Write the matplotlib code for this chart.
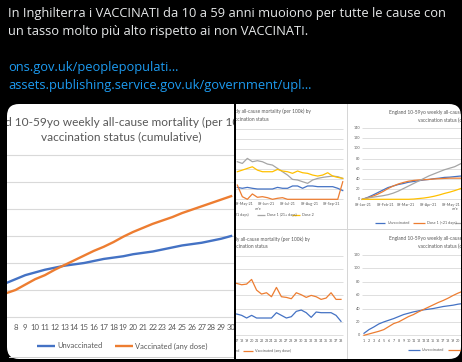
import matplotlib.pyplot as plt
import matplotlib.dates as mdates
import matplotlib.transforms as mtransforms
from matplotlib.patches import FancyBboxPatch, Rectangle
import pandas as pd

W, H = 462, 362

# tweet text
tweet_lines = ["In Inghilterra i VACCINATI da 10 a 59 anni muoiono per tutte le cause con",
               "un tasso molto più alto rispetto ai non VACCINATI."]
links = ["ons.gov.uk/peoplepopulati…",
         "assets.publishing.service.gov.uk/government/upl…"]

title_l1 = "England 10-59yo weekly all-cause mortality (per 100k) by"
title_l2_cum = "vaccination status (cumulative)"
title_l2 = "vaccination status"

# cumulative weekly all-cause mortality per 100k, weeks 1-30
cum_weeks = list(range(1, 31))
cum_unvacc = [3, 8.5, 12.5, 17, 20, 22.5, 25, 28, 31, 33, 35, 36.5, 38, 39, 40,
              41.5, 43, 44, 45, 46.5, 47.5, 48.5, 50, 51.5, 53, 54, 55, 56.5, 58, 60]
cum_vacc = [0, 2, 4, 6, 8.5, 13, 17.5, 20, 24, 28, 31, 35, 38.5, 42, 45.5,
            49, 52, 55.5, 59.5, 63, 66, 69, 71.5, 74, 77, 79.5, 82, 84.5, 87, 89.5]

# weekly mortality by dose (w/e dates)
dose_dates = pd.date_range("2021-04-30", periods=22, freq="7D")
dose_unvacc = [1.18, 1.09, 1.18, 1.09, 1.02, 1.02, 1.02, 1.02, 1.18, 1.09, 1.09,
               1.32, 1.32, 1.09, 1.32, 1.32, 1.25, 1.25, 1.25, 1.25, 1.09, 0.86]
dose1_early = [1.41, 0.26, 0.0, 0.53, 0.2, 0.26, 0.16, 0.0, 0.1, 0.16, 0.0,
               0.0, 0.0, 0.0, 0.0, 0.0, 0.0, 0.0, 0.0, 0.0, 0.0, 1.74]
dose1_late = [3.72, 3.55, 4.05, 3.72, 3.82, 3.72, 3.49, 3.39, 3.06, 2.73, 2.40,
              1.97, 1.91, 1.74, 1.58, 1.91, 2.07, 2.17, 2.24, 2.30, 2.24, 2.07]
dose2 = [2.73, 2.89, 3.06, 3.22, 2.89, 2.73, 2.73, 2.73, 2.96, 2.80, 2.73,
         2.57, 2.80, 2.63, 2.57, 2.40, 2.30, 2.40, 2.63, 2.30, 2.17, 2.07]
dose_ticks = ["2021-05-09", "2021-06-09", "2021-07-09", "2021-08-09", "2021-09-09"]

# cumulative by dose
cd_dates = pd.date_range("2021-01-08", periods=21, freq="7D")
cd_unvacc = [0, 3.5, 8, 13, 18, 23, 26, 29, 31, 33.5, 35, 36.5, 38, 39, 40.5,
             41.5, 43, 43.5, 44.5, 45.5, 46]
cd_dose1_early = [0, 2.5, 6, 10, 15, 21, 26, 30, 33, 35.5, 37, 38, 38.5, 39, 40,
                  40.5, 41, 41.5, 41.5, 41.5, 41.5]
cd_dose1_late = [0, 2.5, 4, 5.5, 7, 9, 12, 16, 21, 26, 31, 36, 41, 46, 50, 54,
                 58, 61, 64, 69, 74]
cd_dose2 = [0, 0, 0, 0, 0, 0, 0, 0, 0, 0, 0.5, 1.5, 2.5, 4, 6, 8.5, 11.5, 14,
            17, 20.5, 24]
cd_ticks = ["2021-01-09", "2021-02-09", "2021-03-09", "2021-04-09", "2021-05-09"]

# weekly (non-cumulative) by vaccination status, weeks 16-38
wk_weeks = list(range(16, 39))
wk_unvacc = [1.6, 1.6, 1.5, 1.3, 1.5, 1.3, 1.3, 1.3, 1.3, 1.7, 1.5, 1.3, 1.4,
             1.8, 1.9, 1.7, 1.35, 1.75, 1.7, 1.7, 1.7, 1.5, 1.05]
wk_vacc = [3.95, 3.9, 3.8, 3.85, 4.2, 3.4, 3.1, 3.2, 2.9, 3.6, 2.9, 2.85, 2.75,
           3.2, 3.05, 2.85, 3.0, 2.9, 2.7, 2.8, 3.2, 2.7, 2.7]

BLUE, ORANGE, GREY, YELLOW = "#4472c4", "#ed7d31", "#a5a5a5", "#ffc000"
TXT, GRID = "#595959", "#d9d9d9"
FONT = "Lato"
SMALL, TSMALL = 2.7, 3.5

fig = plt.figure(figsize=(W / 100, H / 100), dpi=100)
fig.patch.set_facecolor("#000000")
pix = mtransforms.Affine2D().scale(1 / W, -1 / H).translate(0, 1) + fig.transFigure


def tile(x0, y0, x1, y1, xmap, ymap):
    ax = fig.add_axes([x0 / W, 1 - y1 / H, (x1 - x0) / W, (y1 - y0) / H])
    ax.set_axis_off()
    ax.patch.set_visible(False)
    (pa, va, pb, vb), (qa, ua, qb, ub) = xmap, ymap
    fx = lambda p: va + (p - pa) * (vb - va) / (pb - pa)
    fy = lambda q: ua + (q - qa) * (ub - ua) / (qb - qa)
    ax.set_xlim(fx(x0), fx(x1))
    ax.set_ylim(fy(y1), fy(y0))
    ax.fx = fx
    ax.bx = mtransforms.blended_transform_factory(ax.transData, pix)
    ax.by = mtransforms.blended_transform_factory(pix, ax.transData)
    return ax


def ptext(ax, x, y, s, size, ha="center", color=TXT):
    ax.text(x, y, s, transform=pix, fontsize=size, ha=ha, va="center",
            color=color, family=FONT, clip_on=True)


def key(ax, x0, x1, y, color, lw):
    ax.plot([x0, x1], [y, y], transform=pix, color=color, lw=lw,
            solid_capstyle="butt", clip_on=True)


def xlabels(ax, xs, labels, y, size, xmin, xmax):
    # only labels that sit inside the visible crop of the chart
    for x, s in zip(xs, labels):
        xv = mdates.date2num(x) if isinstance(x, pd.Timestamp) else x
        if ax.fx(xmin) <= xv <= ax.fx(xmax):
            ax.text(x, y, s, transform=ax.bx, fontsize=size, ha="center",
                    va="center", color=TXT, family=FONT, clip_on=True)


# tweet text, sized so the first line spans the same width as the reference
renderer = fig.canvas.get_renderer()
texts = []
for i, (s, y) in enumerate(zip(tweet_lines + links, [13, 32, 68, 86])):
    col = "#e7e9ea" if i < 2 else "#1d9bf0"
    texts.append(fig.text(8 / W, 1 - y / H, s, fontsize=10, color=col,
                          va="center", family="Open Sans"))
scale = 437 / texts[0].get_window_extent(renderer).width
for t in texts:
    t.set_fontsize(10 * scale)

# media panel
fig.add_artist(FancyBboxPatch((7, 104), 454, 255, transform=pix,
                              boxstyle="round,pad=0,rounding_size=12",
                              facecolor="white", edgecolor="none", zorder=-5))
fig.add_artist(Rectangle((233.5, 100), 2.5, 262, transform=pix,
                         facecolor="black", edgecolor="none", zorder=-4))
fig.add_artist(Rectangle((346.5, 104), 1, 255, transform=pix,
                         facecolor="#d6d6d6", edgecolor="none", zorder=-4))
fig.add_artist(Rectangle((236, 228.5), 225, 1, transform=pix,
                         facecolor="#d6d6d6", edgecolor="none", zorder=-4))
fig.add_artist(Rectangle((9, 357), 224.5, 0.8, transform=pix,
                         facecolor="#d0d0d0", edgecolor="none", zorder=-4))

d = mdates.date2num

# ---- big cumulative chart (left image)
ax = tile(7, 104, 233.5, 358, (15.5, 8, 231.1, 30), (317, 0, 155, 120))
ax.hlines(range(0, 121, 20), 0, 40, color=GRID, lw=0.8)
ax.plot(cum_weeks, cum_unvacc, color=BLUE, lw=1.7)
ax.plot(cum_weeks, cum_vacc, color=ORANGE, lw=1.7)
xlabels(ax, cum_weeks, [str(w) for w in cum_weeks], 327, 5.6, 11, 240)
ptext(ax, 121, 122, title_l1, 8.6)
ptext(ax, 121, 137, title_l2_cum, 8.6)
key(ax, 37, 55, 346, BLUE, 1.7)
ptext(ax, 57, 346, "Unvaccinated", 5.4, ha="left")
key(ax, 115, 133, 346, ORANGE, 1.7)
ptext(ax, 135, 346, "Vaccinated (any dose)", 5.4, ha="left")

# ---- top-left tile: weekly by dose
ax = tile(236, 104, 346.5, 228.5, (266, d(pd.Timestamp("2021-06-09")), 332,
                                   d(pd.Timestamp("2021-09-09"))), (199.3, 0, 128.6, 7))
ax.hlines(range(0, 8), d(pd.Timestamp("2021-01-01")),
          ax.fx(343), color=GRID, lw=0.6)
for ys, c in [(dose_unvacc, BLUE), (dose1_early, ORANGE), (dose1_late, GREY), (dose2, YELLOW)]:
    ax.plot(dose_dates, ys, color=c, lw=0.9)
xlabels(ax, [pd.Timestamp(t) for t in dose_ticks],
        [pd.Timestamp(t).strftime("%d-%b-%y") for t in dose_ticks], 204, SMALL, 200, 360)
ptext(ax, 258, 209, "w/e", SMALL)
ptext(ax, 249, 111.5, title_l1, TSMALL)
ptext(ax, 249, 119.5, title_l2, TSMALL)
ptext(ax, 249, 215, "Dose 1 (<21 days)", SMALL, ha="right")
key(ax, 257, 265, 215, GREY, 0.9)
ptext(ax, 267, 215, "Dose 1 (21+ days)", SMALL, ha="left")
key(ax, 292, 300, 215, YELLOW, 0.9)
ptext(ax, 302, 215, "Dose 2", SMALL, ha="left")

# ---- top-right tile: cumulative by dose
ax = tile(347.5, 104, 461, 228.5, (363, d(pd.Timestamp("2021-01-09")), 451,
                                   d(pd.Timestamp("2021-05-09"))), (199.3, 0, 128, 140))
ax.hlines(range(0, 141, 20), ax.fx(362), ax.fx(480), color=GRID, lw=0.6)
for ys, c in [(cd_unvacc, BLUE), (cd_dose1_early, ORANGE), (cd_dose1_late, GREY), (cd_dose2, YELLOW)]:
    ax.plot(cd_dates, ys, color=c, lw=0.9)
for v in range(0, 141, 20):
    ax.text(360.5, v, str(v), transform=ax.by, fontsize=SMALL, ha="right",
            va="center", color=TXT, family=FONT, clip_on=True)
xlabels(ax, [pd.Timestamp(t) for t in cd_ticks],
        [pd.Timestamp(t).strftime("%d-%b-%y") for t in cd_ticks], 205, SMALL, 340, 470)
ptext(ax, 455, 209, "w/e", SMALL)
ptext(ax, 451, 112.5, title_l1, TSMALL)
ptext(ax, 451, 120.5, title_l2_cum, TSMALL)
key(ax, 375, 385, 223, BLUE, 0.9)
ptext(ax, 388, 223, "Unvaccinated", SMALL, ha="left")
key(ax, 413, 425, 223, ORANGE, 0.9)
ptext(ax, 427, 223, "Dose 1 (<21 days)", SMALL, ha="left")
key(ax, 455, 467, 223, GREY, 0.9)

# ---- bottom-left tile: weekly by status
ax = tile(236, 229.5, 346.5, 358, (236.7, 17, 341, 38), (335.3, 0, 255.5, 6))
ax.hlines(range(0, 7), 0, ax.fx(343), color=GRID, lw=0.6)
ax.plot(wk_weeks, wk_unvacc, color=BLUE, lw=0.9)
ax.plot(wk_weeks, wk_vacc, color=ORANGE, lw=0.9)
xlabels(ax, wk_weeks, [str(w) for w in wk_weeks], 341, SMALL, 235, 345)
ptext(ax, 248, 239.5, title_l1, TSMALL)
ptext(ax, 248, 247, title_l2, TSMALL)
ptext(ax, 240, 351, "Unvaccinated", SMALL, ha="right")
key(ax, 243, 253, 351, ORANGE, 0.9)
ptext(ax, 255, 351, "Vaccinated (any dose)", SMALL, ha="left")

# ---- bottom-right tile: cumulative by status
ax = tile(347.5, 229.5, 461, 358, (364, 1, 458, 20), (335.3, 0, 255, 120))
ax.hlines(range(0, 121, 20), ax.fx(362), ax.fx(480), color=GRID, lw=0.6)
ax.plot(cum_weeks, cum_unvacc, color=BLUE, lw=0.9)
ax.plot(cum_weeks, cum_vacc, color=ORANGE, lw=0.9)
for v in range(0, 121, 20):
    ax.text(360.5, v, str(v), transform=ax.by, fontsize=SMALL, ha="right",
            va="center", color=TXT, family=FONT, clip_on=True)
xlabels(ax, cum_weeks, [str(w) for w in cum_weeks], 341, SMALL, 340, 462)
ptext(ax, 451, 238.5, title_l1, TSMALL)
ptext(ax, 451, 246.5, title_l2_cum, TSMALL)
key(ax, 408, 420, 350, BLUE, 0.9)
ptext(ax, 422, 350, "Unvaccinated", SMALL, ha="left")
key(ax, 448, 462, 350, ORANGE, 0.9)

fig.savefig("out.png", dpi=100, facecolor=fig.get_facecolor())
